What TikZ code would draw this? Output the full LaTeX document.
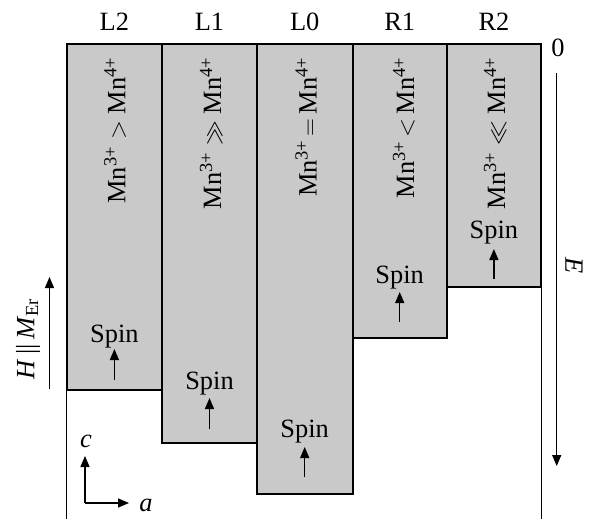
\documentclass[tikz,border=0pt]{standalone}
\usepackage{fontspec}
\setmainfont{Liberation Serif}
\usetikzlibrary{arrows.meta}
\definecolor{bandgray}{RGB}{201,201,201}
\tikzset{
  band/.style={fill=bandgray, draw=black, line width=2bp},
  thinline/.style={draw=black, line width=1bp},
  arr/.style={line width=1.4bp, -{Triangle[length=11bp,width=9bp]}},
  lbl/.style={inner sep=0pt, font=\fontsize{26.5}{30}\selectfont},
  mnlbl/.style={lbl, rotate=90, anchor=base east},
}
\newcommand{\Mn}[1]{Mn\textsuperscript{#1+}}
\begin{document}
\begin{tikzpicture}[x=1bp, y=-1bp]
\useasboundingbox (0,0) rectangle (589,519);

% thin side lines below the outer bands
\draw[thinline] (66.5,389.7) -- (66.5,519);
\draw[thinline] (541,286.7) -- (541,519);

% energy bands (top at E = 0)
\draw[band] (66.5,44.3) rectangle (162.3,389.7);
\draw[band] (162.3,44.3) rectangle (256.7,443);
\draw[band] (256.7,44.3) rectangle (352.7,494.3);
\draw[band] (352.7,44.3) rectangle (446.7,338.3);
\draw[band] (446.7,44.3) rectangle (541,286.7);

% column headers
\node[lbl] (hL2) at (114.4,22) {L2};
\node[lbl] (hL1) at (209.5,22) {L1};
\node[lbl] (hL0) at (304.7,22) {L0};
\node[lbl] (hR1) at (399.7,22) {R1};
\node[lbl] (hR2) at (493.9,22) {R2};
\node[lbl] (zero) at (558,48) {0};

% valence ratios
\node[mnlbl] (mL2) at (125.4,57) {\Mn{3}$\;>\;$\Mn{4}};
\node[mnlbl] (mL1) at (221.0,57) {\Mn{3}$\;\gg\;$\Mn{4}};
\node[mnlbl] (mL0) at (316.7,57) {\Mn{3}$\,=\,$\Mn{4}};
\node[mnlbl] (mR1) at (414.0,57) {\Mn{3}$\,<\,$\Mn{4}};
\node[mnlbl] (mR2) at (505.0,57) {\Mn{3}$\;\ll\;$\Mn{4}};

% spin labels and arrows
\node[lbl, anchor=base] (sL2) at (114.4,342) {Spin};
\node[lbl, anchor=base] (sL1) at (209.5,389) {Spin};
\node[lbl, anchor=base] (sL0) at (304.7,437) {Spin};
\node[lbl, anchor=base] (sR1) at (399.7,283) {Spin};
\node[lbl, anchor=base] (sR2) at (493.9,238) {Spin};

\coordinate (tL2a) at (114.4,380); \coordinate (tL2b) at (114.4,349);
\coordinate (tL1a) at (209.5,429); \coordinate (tL1b) at (209.5,398);
\coordinate (tL0a) at (304.7,477); \coordinate (tL0b) at (304.7,447);
\coordinate (tR1a) at (399.7,322); \coordinate (tR1b) at (399.7,292);
\coordinate (tR2a) at (493.9,279); \coordinate (tR2b) at (493.9,249);
\draw[arr] (tL2a) -- (tL2b);
\draw[arr] (tL1a) -- (tL1b);
\draw[arr] (tL0a) -- (tL0b);
\draw[arr] (tR1a) -- (tR1b);
\draw[arr] (tR2a) -- (tR2b);

% energy axis
\coordinate (eTop) at (556.7,73);
\coordinate (eBot) at (556.7,466);
\draw[arr] (eTop) -- (eBot);
\node[lbl, rotate=-90] (Elbl) at (574,266) {\textit{E}};

% field direction
\coordinate (hBot) at (49.5,389);
\coordinate (hTop) at (49.5,277);
\draw[arr] (hBot) -- (hTop);
\node[lbl, rotate=90] (Hlbl) at (28,339) {\textit{H}\,||\,\textit{M}\textsubscript{Er}};

% crystal axes
\coordinate (origin) at (85,503);
\coordinate (cTip) at (85,456);
\coordinate (aTip) at (129,503);
\draw[arr] (origin) -- (cTip);
\draw[arr] (origin) -- (aTip);
\node[lbl] (clbl) at (86,441) {\textit{c}};
\node[lbl] (albl) at (146,505) {\textit{a}};
\end{tikzpicture}
\end{document}
